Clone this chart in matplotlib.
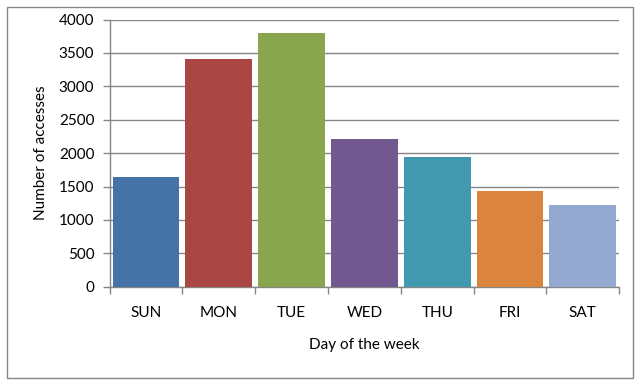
import numpy as np
import matplotlib.pyplot as plt
from matplotlib.patches import Rectangle

days = ["SUN", "MON", "TUE", "WED", "THU", "FRI", "SAT"]
accesses = [1645, 3405, 3800, 2215, 1945, 1435, 1225]
colors = ["#4572A7", "#AA4643", "#89A54E", "#71588F", "#4198AF", "#DB843D", "#93A9CF"]

GRAY = "#868686"
plt.rcParams["font.family"] = ["Lato", "DejaVu Sans"]
plt.rcParams["font.size"] = 11

fig = plt.figure(figsize=(6.41, 3.85), dpi=100)
ax = fig.add_axes([0.171, 0.2553, 0.795, 0.6940])

x = np.arange(len(days))
ax.bar(x, accesses, width=0.92, color=colors, zorder=3)

ax.set_xlim(-0.5, len(days) - 0.5)
ax.set_ylim(0, 4000)
ax.set_yticks(np.arange(0, 4001, 500))
ax.yaxis.grid(True, color=GRAY, linewidth=1.0, zorder=0)
ax.set_axisbelow(True)

ax.set_xticks(x)
ax.set_xticklabels(days)
ax.set_xticks(np.arange(-0.5, len(days)), minor=True)
ax.tick_params(axis="x", which="major", length=0, pad=14)
ax.tick_params(axis="x", which="minor", length=5, color=GRAY, width=1)
ax.tick_params(axis="y", length=5, color=GRAY, width=1, pad=6)

for s in ["top", "right"]:
    ax.spines[s].set_visible(False)
for s in ["left", "bottom"]:
    ax.spines[s].set_color(GRAY)
    ax.spines[s].set_linewidth(1)

ax.set_xlabel("Day of the week", labelpad=13)
ax.set_ylabel("Number of accesses", labelpad=8)

fig.patches.append(Rectangle((7 / 641, 7 / 385), 626 / 641, 371 / 385,
                             transform=fig.transFigure, fill=False,
                             edgecolor=GRAY, linewidth=1))

fig.savefig("out.png", dpi=100)
